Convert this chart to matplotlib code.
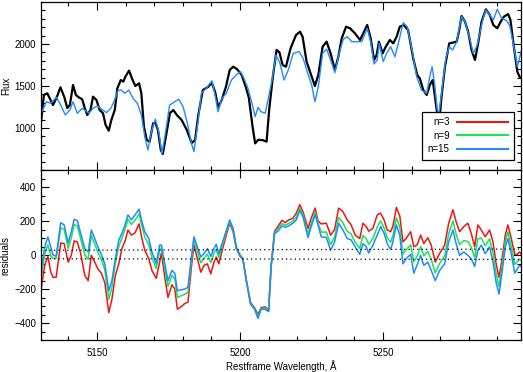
import numpy as np
import matplotlib
matplotlib.use('agg')
import matplotlib.pyplot as plt
from matplotlib.ticker import MultipleLocator

# observed spectrum (black)
wave_obs = [5130.5, 5131.4, 5132.6, 5133.4, 5134.6, 5135.8, 5137.2, 5138.5, 5139.6, 5140.5,
            5141.6, 5142.6, 5143.6, 5144.8, 5145.7, 5146.6, 5147.7, 5148.6, 5149.8, 5150.9,
            5152.1, 5153.0, 5154.1, 5155.0, 5156.2, 5157.1, 5158.3, 5159.2, 5159.9, 5161.2,
            5162.2, 5163.4, 5164.7, 5165.5, 5166.4, 5167.4, 5168.4, 5169.6, 5170.4, 5171.3,
            5172.3, 5173.0, 5174.1, 5175.5, 5176.7, 5177.9, 5179.6, 5181.4, 5183.1, 5184.3,
            5185.4, 5187.0, 5188.9, 5190.1, 5191.3, 5192.4, 5193.6, 5195.1, 5196.4, 5197.6,
            5199.0, 5200.6, 5202.0, 5203.1, 5204.4, 5205.3, 5206.4, 5208.0, 5209.3, 5210.2,
            5211.5, 5212.8, 5213.8, 5214.9, 5216.1, 5217.7, 5219.6, 5221.0, 5221.9, 5223.3,
            5224.7, 5226.2, 5227.4, 5228.9, 5230.3, 5231.7, 5233.2, 5234.4, 5235.6, 5237.1,
            5238.5, 5240.2, 5242.0, 5243.4, 5244.5, 5245.7, 5246.9, 5247.8, 5248.6, 5249.9,
            5251.0, 5252.4, 5253.6, 5254.8, 5255.9, 5257.3, 5258.8, 5260.6, 5262.0, 5262.9,
            5264.1, 5265.3, 5266.4, 5267.4, 5268.2, 5269.1, 5269.7, 5270.5, 5271.7, 5273.2,
            5274.4, 5275.8, 5276.7, 5277.5, 5278.7, 5279.8, 5281.0, 5282.2, 5283.3, 5284.5,
            5286.0, 5287.4, 5288.6, 5290.0, 5291.2, 5292.3, 5293.8, 5294.6, 5295.8, 5297.0,
            5297.9]
flux_obs = [1095, 1393, 1413, 1357, 1274, 1357, 1484, 1373, 1238, 1274,
            1512, 1393, 1365, 1342, 1238, 1155, 1214, 1373, 1333, 1214,
            1175, 1036, 968, 1095, 1214, 1472, 1571, 1552, 1611, 1683,
            1591, 1500, 1532, 1413, 1016, 857, 837, 1056, 1063, 976,
            738, 690, 900, 1179, 1214, 1155, 1095, 976, 821, 857,
            1150, 1452, 1490, 1540, 1430, 1245, 1333, 1492, 1690, 1730,
            1700, 1631, 1492, 1360, 1016, 817, 860, 855, 837, 1214,
            1611, 1930, 1900, 1750, 1730, 1949, 2107, 2147, 2087, 1790,
            1651, 1500, 1631, 1968, 2028, 1889, 1690, 1849, 2068, 2206,
            2187, 2127, 2048, 2147, 2226, 2068, 1810, 1869, 2028, 1889,
            1968, 2048, 2008, 2087, 2206, 2226, 2167, 1829, 1631, 1591,
            1452, 1393, 1512, 1571, 1373, 1135, 1075, 1373, 1730, 2008,
            2016, 2028, 2167, 2333, 2266, 2147, 1929, 1810, 2008, 2266,
            2413, 2345, 2226, 2187, 2266, 2325, 2357, 2286, 1968, 1671,
            1603]

# best model, n=15 (blue)
wave_mod = [5130.5, 5132.3, 5133.8, 5135.8, 5137.3, 5138.9, 5140.5, 5141.6, 5143.1, 5144.8,
            5145.8, 5147.1, 5148.6, 5150.1, 5151.7, 5153.3, 5154.8, 5155.9, 5157.3, 5158.5,
            5159.7, 5161.1, 5162.6, 5164.1, 5165.5, 5166.7, 5167.8, 5169.0, 5170.4, 5171.6,
            5172.7, 5173.9, 5175.4, 5177.2, 5178.6, 5180.1, 5181.6, 5183.0, 5183.9, 5185.1,
            5186.5, 5188.2, 5190.2, 5191.4, 5192.3, 5193.7, 5195.2, 5197.0, 5198.7, 5200.2,
            5201.4, 5202.8, 5204.5, 5205.3, 5206.3, 5207.4, 5208.8, 5209.8, 5211.2, 5212.6,
            5214.0, 5215.4, 5216.9, 5218.6, 5220.7, 5222.1, 5223.9, 5225.1, 5226.2, 5227.4,
            5228.9, 5230.3, 5231.7, 5233.2, 5234.7, 5236.1, 5237.5, 5239.1, 5240.8, 5242.6,
            5244.5, 5245.7, 5246.9, 5248.0, 5248.7, 5250.1, 5251.3, 5252.7, 5254.2, 5255.4,
            5257.1, 5258.5, 5260.4, 5261.8, 5263.5, 5265.3, 5266.4, 5267.2, 5268.2, 5269.0,
            5269.6, 5270.5, 5272.0, 5273.2, 5274.4, 5275.8, 5277.5, 5278.7, 5280.2, 5281.6,
            5282.9, 5284.9, 5286.0, 5287.4, 5288.6, 5290.0, 5291.5, 5293.3, 5294.4, 5295.8,
            5297.0, 5298.5]
flux_mod = [1175, 1313, 1294, 1365, 1274, 1155, 1214, 1313, 1175, 1234,
            1210, 1175, 1234, 1262, 1222, 1183, 1234, 1313, 1444, 1452,
            1413, 1452, 1353, 1294, 1155, 897, 738, 956, 1107, 956,
            690, 937, 1274, 1313, 1342, 1254, 1056, 817, 718, 1016,
            1413, 1472, 1563, 1373, 1194, 1353, 1413, 1571, 1631, 1671,
            1591, 1472, 1254, 1135, 1246, 1194, 1175, 1333, 1571, 1869,
            1770, 1571, 1690, 1889, 1909, 1829, 1631, 1512, 1313, 1492,
            1889, 1937, 1810, 1659, 1889, 2056, 2087, 2028, 2028, 2028,
            2187, 2028, 1762, 1810, 2008, 1790, 1889, 1968, 1849, 2008,
            2254, 2206, 1889, 1611, 1452, 1413, 1611, 1730, 1492, 1214,
            1175, 1413, 1829, 1968, 1929, 2028, 2325, 2266, 2087, 1889,
            1980, 2286, 2405, 2345, 2286, 2413, 2306, 2278, 2214, 1968,
            1730, 1929]

# residuals for the three models
wave_res = [5130.5, 5131.7, 5132.8, 5133.8, 5134.6, 5135.7, 5137.3, 5138.5, 5139.9, 5141.0,
            5142.0, 5143.1, 5144.3, 5145.7, 5146.9, 5148.0, 5149.2, 5150.3, 5151.5, 5152.7,
            5154.1, 5155.2, 5156.4, 5157.6, 5158.7, 5159.9, 5160.8, 5162.0, 5163.3, 5164.7,
            5165.7, 5166.7, 5168.1, 5169.2, 5170.7, 5171.9, 5172.5, 5173.7, 5174.8, 5176.2,
            5177.2, 5178.1, 5179.4, 5180.7, 5181.8, 5183.0, 5183.9, 5185.1, 5186.3, 5187.4,
            5188.6, 5189.8, 5190.9, 5191.7, 5192.6, 5194.1, 5195.2, 5196.4, 5197.6, 5198.7,
            5199.9, 5201.0, 5202.2, 5203.7, 5205.1, 5206.3, 5207.4, 5208.8, 5210.0, 5210.9,
            5212.1, 5213.3, 5214.7, 5215.8, 5217.0, 5218.5, 5219.7, 5220.9, 5222.0, 5223.8,
            5224.9, 5226.3, 5227.3, 5228.4, 5230.2, 5231.7, 5233.1, 5234.5, 5236.0, 5237.5,
            5238.8, 5240.3, 5241.9, 5243.0, 5244.2, 5245.0, 5246.5, 5248.0, 5249.2, 5250.4,
            5251.5, 5252.7, 5253.5, 5254.7, 5255.9, 5257.0, 5258.1, 5259.7, 5260.8, 5262.0,
            5263.2, 5264.3, 5265.7, 5266.9, 5268.3, 5269.8, 5271.6, 5273.0, 5274.5, 5275.6,
            5276.8, 5278.3, 5279.7, 5280.9, 5282.1, 5283.2, 5284.4, 5285.8, 5287.3, 5288.5,
            5289.6, 5290.6, 5291.6, 5292.8, 5293.7, 5294.9, 5296.1, 5297.0, 5297.8, 5298.6]
res_n3 = [-194, -61, -8, -100, -131, -131, 71, 67, -42, -2,
          83, 77, 8, -120, -151, -2, -42, -81, -107, -161,
          -339, -260, -121, -52, 38, 87, 147, 117, 130, 183,
          97, 28, -22, -91, -137, -42, 12, -131, -250, -175,
          -200, -319, -305, -285, -278, -71, 58, -22, -101, -61,
          -52, -111, -42, -12, -52, 48, 117, 187, 137, 38,
          -5, -25, -145, -280, -310, -349, -310, -305, -325, -60,
          140, 170, 204, 190, 206, 216, 246, 296, 256, 157,
          216, 276, 200, 183, 187, 117, 150, 276, 256, 206,
          180, 117, 97, 187, 167, 140, 157, 236, 246, 206,
          147, 137, 170, 280, 230, 77, 97, 137, 48, 60,
          117, 67, 101, 58, -42, 8, 58, 187, 266, 196,
          137, 167, 187, 127, 48, 177, 147, 107, 147, 77,
          -52, -131, -32, 117, 177, 97, 4, 4, 18, 0]
res_n9 = [-130, 5, 60, -5, -20, -20, 160, 150, 40, 100,
          180, 170, 95, 0, -25, 115, 65, 15, -25, -85,
          -260, -190, -50, 50, 100, 155, 210, 180, 205, 240,
          170, 105, 60, -15, -80, 25, 40, -80, -185, -120,
          -140, -250, -240, -230, -220, -35, 90, 20, -45, -20,
          5, -45, 10, 35, -15, 70, 135, 195, 150, 45,
          0, -22, -150, -285, -315, -360, -315, -312, -330, -65,
          132, 155, 185, 175, 185, 200, 222, 275, 240, 125,
          185, 252, 188, 135, 135, 62, 105, 220, 190, 140,
          125, 75, 40, 115, 95, 62, 97, 165, 200, 160,
          100, 75, 115, 220, 165, 5, 30, 60, -40, -5,
          50, -5, 20, -25, -105, -50, -5, 125, 200, 125,
          60, 85, 80, 45, -15, 95, 100, 55, 95, 15,
          -110, -185, -75, 80, 135, 50, -55, -40, -25, -35]
res_n15 = [-95, 48, 107, 48, 0, -8, 190, 177, 71, 137,
           210, 202, 127, 38, 18, 147, 97, 48, 4, -52,
           -210, -151, -22, 87, 127, 183, 236, 206, 236, 270,
           196, 137, 97, 18, -52, 58, 58, -52, -151, -91,
           -107, -210, -205, -200, -190, -12, 107, 48, -12, 8,
           38, -8, 38, 63, 8, 87, 147, 206, 157, 48,
           4, -22, -151, -290, -319, -373, -319, -319, -333, -71,
           127, 140, 171, 163, 171, 187, 206, 262, 226, 103,
           167, 236, 177, 107, 103, 28, 77, 187, 147, 97,
           90, 48, 4, 67, 48, 12, 58, 117, 167, 127,
           67, 32, 77, 177, 117, -52, -22, 4, -107, -56,
           -2, -61, -42, -91, -151, -91, -52, 77, 147, 67,
           -2, 18, -2, -22, -67, 28, 58, 8, 48, -42,
           -161, -230, -111, 48, 97, 8, -107, -81, -61, -71]

# noise envelope (dotted)
wave_noise = [5130.4, 5298.3]
noise_hi = [28, 35]
noise_lo = [-22, -26]

labels = ['n=3', 'n=9', 'n=15']
colors = ['#f01414', '#1ee05a', '#1e8cff']

plt.rcParams['font.family'] = ['Liberation Sans', 'DejaVu Sans']
plt.rcParams['font.size'] = 7

fig = plt.figure(figsize=(5.23, 3.72), dpi=100)
ax1 = fig.add_axes([0.0784, 0.543, 0.9178, 0.4516])
ax2 = fig.add_axes([0.0784, 0.086, 0.9178, 0.457])

ax1.plot(wave_obs, flux_obs, color='black', lw=1.6)
ax1.plot(wave_mod, flux_mod, color=colors[2], lw=1.0)

for res, c, lab in zip([res_n3, res_n9, res_n15], colors, labels):
    ax2.plot(wave_res, res, color=c, lw=1.1)
    ax1.plot([], [], color=c, lw=1.5, label=lab)
ax2.plot(wave_noise, noise_hi, color='black', lw=0.9, ls=(0, (1, 2.5)))
ax2.plot(wave_noise, noise_lo, color='black', lw=0.9, ls=(0, (1, 2.5)))

leg = ax1.legend(loc='lower right', bbox_to_anchor=(0.985, 0.06), markerfirst=False,
                 fancybox=False, framealpha=1, edgecolor='black', handlelength=5.2,
                 labelspacing=0.34, borderpad=0.6, handletextpad=0.8, borderaxespad=0,
                 fontsize=7)
leg.get_frame().set_linewidth(0.9)
for t in leg.get_texts():
    t.set_ha('right')

for ax in (ax1, ax2):
    ax.set_xlim(5130.4, 5298.3)
    ax.xaxis.set_major_locator(MultipleLocator(50))
    ax.xaxis.set_minor_locator(MultipleLocator(10))
    ax.tick_params(which='both', direction='in', top=True, right=True, width=0.8)
    ax.tick_params(which='major', length=6)
    ax.tick_params(which='minor', length=3)
    for s in ax.spines.values():
        s.set_linewidth(0.9)

ax1.set_ylim(500, 2500)
ax1.set_yticks([1000, 1500, 2000])
ax1.yaxis.set_minor_locator(MultipleLocator(100))
ax1.tick_params(labelbottom=False)
ax1.set_ylabel('Flux')
ax1.yaxis.set_label_coords(-0.063, 0.5)

ax2.set_ylim(-500, 500)
ax2.set_yticks([-400, -200, 0, 200, 400])
ax2.yaxis.set_minor_locator(MultipleLocator(50))
ax2.set_ylabel('residuals')
ax2.yaxis.set_label_coords(-0.063, 0.5)
ax2.set_xlabel('Restframe Wavelength, \u00c5', labelpad=1.5)
ax2.tick_params(axis='x', pad=6)

fig.savefig('out.png', dpi=100)
